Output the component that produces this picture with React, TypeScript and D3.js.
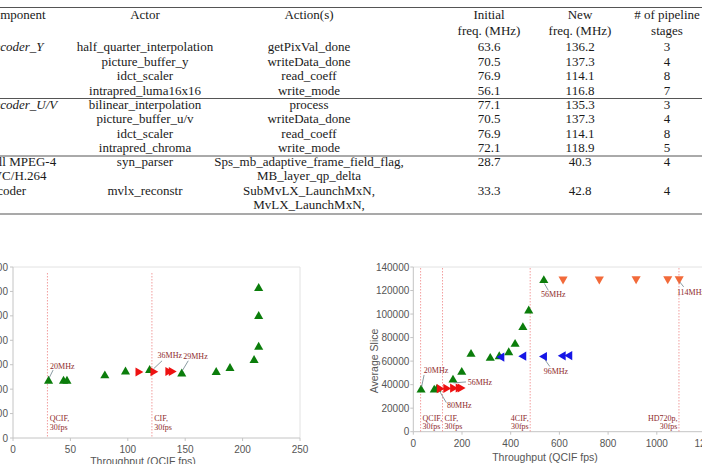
import React from "react";
import * as d3 from "d3";

// ---------- Table data ----------
const tableHeader1 = ["Component", "Actor", "Action(s)", "Initial", "New", "# of pipeline"];
const tableHeader2 = ["", "", "", "freq. (MHz)", "freq. (MHz)", "stages"];
const componentNames = [["Decoder_Y"], ["Decoder_U/V"], ["Full MPEG-4", "AVC/H.264", "decoder"]];
const componentItalic = [true, true, false];
const groupSizes = [4, 4, 2];
const actors = [
  "half_quarter_interpolation", "picture_buffer_y", "idct_scaler", "intrapred_luma16x16",
  "bilinear_interpolation", "picture_buffer_u/v", "idct_scaler", "intrapred_chroma",
  "syn_parser", "mvlx_reconstr",
];
const actions = [
  ["getPixVal_done"], ["writeData_done"], ["read_coeff"], ["write_mode"],
  ["process"], ["writeData_done"], ["read_coeff"], ["write_mode"],
  ["Sps_mb_adaptive_frame_field_flag,", "MB_layer_qp_delta"],
  ["SubMvLX_LaunchMxN,", "MvLX_LaunchMxN,"],
];
const initialFreq = [63.6, 70.5, 76.9, 56.1, 77.1, 70.5, 76.9, 72.1, 28.7, 33.3];
const newFreq = [136.2, 137.3, 114.1, 116.8, 135.3, 137.3, 114.1, 118.9, 40.3, 42.8];
const pipelineStages = [3, 4, 8, 7, 3, 4, 8, 5, 4, 4];

// ---------- Left chart data (Average Slice vs QCIF fps) ----------
const leftGreenX = [31, 44, 47, 80, 98, 119, 147, 177, 189, 210, 214, 214, 214];
const leftGreenY = [23300, 23300, 23300, 25500, 27100, 27700, 26300, 26900, 28500, 31800, 37200, 49800, 61300];
const leftRedX = [109, 122, 135, 138];
const leftRedY = [27000, 27100, 27200, 27200];
const leftYTicks = [0, 10000, 20000, 30000, 40000, 50000, 60000, 70000];
const leftXTicks = [0, 50, 100, 150, 200, 250];
const leftRefX = [30, 121];
const leftRefLabels = [["QCIF,", "30fps"], ["CIF,", "30fps"]];

// ---------- Right chart data ----------
const rightGreenX = [32, 86, 97, 163, 199, 237, 316, 353, 392, 418, 450, 474, 536];
const rightGreenY = [35500, 35500, 36100, 44000, 50600, 65900, 62500, 63900, 67300, 74400, 88600, 102800, 128600];
const rightBlueX = [363, 453, 538, 615, 642];
const rightBlueY = [63400, 64200, 63900, 64500, 64700];
const rightRedX = [107, 134, 162, 185, 193];
const rightRedY = [36600, 36800, 37000, 37200, 37200];
const rightOrangeX = [615, 764, 915, 1045, 1092];
const rightOrangeY = [129600, 129700, 129800, 129900, 129900];
const rightYTicks = [0, 20000, 40000, 60000, 80000, 100000, 120000, 140000];
const rightXTicks = [0, 200, 400, 600, 800, 1000, 1200];
const rightRefX = [30, 120, 480, 1091];
const rightRefLabels = [["QCIF,", "30fps"], ["CIF,", "30fps"], ["4CIF,", "30fps"], ["HD720p,", "30fps"]];

const GREEN = "#0b7d0b";
const RED = "#ee1111";
const BLUE = "#1616e6";
const ORANGE = "#f26a3a";
const NOTE = "#8e2a2a";
const REF = "#ef8585";
const LEADER = "#58707a";
const SERIF = "'Liberation Serif', 'Times New Roman', serif";
const SANS = "'Liberation Sans', Arial, sans-serif";

type Ann = { label: string; x: number; y: number; dx: number; dy: number; lx: number; ly: number };

const leftNotes: Ann[] = [
  { label: "20MHz", x: leftGreenX[0], y: leftGreenY[0], dx: 1.5, dy: -12, lx: 4.5, ly: -11 },
  { label: "36MHz", x: leftRedX[1], y: leftRedY[1], dx: 4.5, dy: -14, lx: 9, ly: -11 },
  { label: "29MHz", x: leftGreenX[6], y: leftGreenY[6], dx: 1.5, dy: -15, lx: 6.5, ly: -13 },
];
const rightNotes: Ann[] = [
  { label: "20MHz", x: rightGreenX[0], y: rightGreenY[0], dx: 2.7, dy: -17, lx: 3, ly: -15 },
  { label: "56MHz", x: rightGreenX[3], y: rightGreenY[3], dx: 14.7, dy: 5, lx: 13, ly: 2 },
  { label: "80MHz", x: rightRedX[0], y: rightRedY[0], dx: 7.7, dy: 19.7, lx: 7, ly: 14 },
  { label: "56MHz", x: rightGreenX[12], y: rightGreenY[12], dx: -2.7, dy: 17, lx: 4.5, ly: 10 },
  { label: "96MHz", x: rightBlueX[2], y: rightBlueY[2], dx: -0.6, dy: 17, lx: 5.5, ly: 10 },
  { label: "114MHz", x: rightOrangeX[4], y: rightOrangeY[4], dx: -2.3, dy: 16, lx: 4.5, ly: 8 },
];

const tri = d3.symbol().type(d3.symbolTriangle).size(36)() as string;

function Markers({ xs, ys, sx, sy, color, rot }: any) {
  return (
    <g>
      {xs.map((v: number, i: number) => (
        <path
          key={i}
          d={tri}
          fill={color}
          transform={`translate(${sx(v)},${sy(ys[i])}) rotate(${rot})`}
        />
      ))}
    </g>
  );
}

function Notes({ notes, sx, sy }: any) {
  return (
    <g>
      {notes.map((n: Ann, i: number) => {
        const px = sx(n.x);
        const py = sy(n.y);
        return (
          <g key={i}>
            <line x1={px + 0.5} y1={py + (n.ly < 0 ? -3 : 3)} x2={px + n.lx} y2={py + n.ly} stroke={LEADER} strokeWidth={0.7} />
            <text x={px + n.dx} y={py + n.dy} fontFamily={SERIF} fontSize={8} fill={NOTE}>{n.label}</text>
          </g>
        );
      })}
    </g>
  );
}

function Table() {
  const W = 702;
  const colActor = 145;
  const colAction = 309;
  const colInit = 489;
  const colNew = 580;
  const colStage = 667;
  const fs = 13;
  const groupStart = [51, 108.5, 165.5];
  const pitch = 14.5;
  const sepY = [7.5, 98.5, 156, 214];
  const rows: any[] = [];
  let r = 0;
  groupSizes.forEach((n, g) => {
    let line = 0;
    for (let k = 0; k < n; k++) {
      rows.push({ idx: r, y: groupStart[g] + line * pitch });
      line += actions[r].length;
      r++;
    }
  });
  return (
    <g fontFamily={SERIF} fontSize={fs} fill="#1a1a1a">
      {sepY.map((y, i) => (
        <line key={i} x1={0} x2={W} y1={y} y2={y} stroke="#555" strokeWidth={i === 0 || i === 3 ? 1.2 : 1} />
      ))}
      {tableHeader1.map((t, i) => {
        const x = [-15, colActor, colAction, colInit, colNew, colStage][i];
        return (
          <text key={i} x={x} y={19} textAnchor={i === 0 ? "start" : "middle"}>{t}</text>
        );
      })}
      {tableHeader2.map((t, i) => {
        const x = [-15, colActor, colAction, colInit, colNew, colStage][i];
        return t ? <text key={i} x={x} y={34.5} textAnchor="middle">{t}</text> : null;
      })}
      {componentNames.map((lines, g) =>
        lines.map((t, j) => (
          <text key={`${g}-${j}`} x={-15} y={groupStart[g] + j * pitch} fontStyle={componentItalic[g] ? "italic" : "normal"}>{t}</text>
        ))
      )}
      {rows.map(({ idx, y }) => (
        <g key={idx}>
          <text x={colActor} y={y} textAnchor="middle">{actors[idx]}</text>
          {actions[idx].map((a: string, j: number) => (
            <text key={j} x={colAction} y={y + j * pitch} textAnchor="middle">{a}</text>
          ))}
          <text x={colInit} y={y} textAnchor="middle">{initialFreq[idx].toFixed(1)}</text>
          <text x={colNew} y={y} textAnchor="middle">{newFreq[idx].toFixed(1)}</text>
          <text x={colStage} y={y} textAnchor="middle">{pipelineStages[idx]}</text>
        </g>
      ))}
    </g>
  );
}

function LeftChart() {
  const x0 = 13, x1 = 300, yTop = 267, yBot = 438;
  const sx = d3.scaleLinear().domain([0, 250]).range([x0, x1]);
  const sy = d3.scaleLinear().domain([0, 70000]).range([yBot, yTop]);
  return (
    <g>
      <line x1={x0} x2={x1} y1={yTop} y2={yTop} stroke="#e2e2e2" />
      <line x1={x1} x2={x1} y1={yTop} y2={yBot} stroke="#e2e2e2" />
      <line x1={x0} x2={x0} y1={yTop} y2={yBot} stroke="#c4c4c4" />
      <line x1={x0} x2={x1} y1={yBot} y2={yBot} stroke="#c4c4c4" />
      {leftYTicks.map((t) => (
        <g key={t}>
          <line x1={x0 - 3} x2={x0} y1={sy(t)} y2={sy(t)} stroke="#c4c4c4" />
          <text x={x0 - 5} y={sy(t) + 3.5} textAnchor="end" fontFamily={SANS} fontSize={10} fill="#555">{t}</text>
        </g>
      ))}
      {leftXTicks.map((t) => (
        <g key={t}>
          <line x1={sx(t)} x2={sx(t)} y1={yBot} y2={yBot + 3} stroke="#c4c4c4" />
          <text x={sx(t)} y={453} textAnchor="middle" fontFamily={SANS} fontSize={10} fill="#555">{t}</text>
        </g>
      ))}
      <text x={143} y={465} textAnchor="middle" fontFamily={SANS} fontSize={10.5} fill="#555">Throughput (QCIF fps)</text>
      {leftRefX.map((v, i) => (
        <g key={i}>
          <line x1={sx(v)} x2={sx(v)} y1={273} y2={yBot} stroke={REF} strokeWidth={0.8} strokeDasharray="1.5,1.5" />
          {leftRefLabels[i].map((s, j) => (
            <text key={j} x={sx(v) + 2.3} y={421 + j * 9} fontFamily={SERIF} fontSize={8} fill={NOTE}>{s}</text>
          ))}
        </g>
      ))}
      <Markers xs={leftGreenX} ys={leftGreenY} sx={sx} sy={sy} color={GREEN} rot={0} />
      <Markers xs={leftRedX} ys={leftRedY} sx={sx} sy={sy} color={RED} rot={90} />
      <Notes notes={leftNotes} sx={sx} sy={sy} />
    </g>
  );
}

function RightChart() {
  const x0 = 413.3, yTop = 267, yBot = 431.7;
  const sx = d3.scaleLinear().domain([0, 1200]).range([x0, x0 + 1200 * 0.2435]);
  const sy = d3.scaleLinear().domain([0, 140000]).range([yBot, yTop]);
  return (
    <g>
      <line x1={x0} x2={710} y1={yTop} y2={yTop} stroke="#e2e2e2" />
      <line x1={x0} x2={x0} y1={yTop} y2={yBot} stroke="#c4c4c4" />
      <line x1={x0} x2={710} y1={yBot} y2={yBot} stroke="#c4c4c4" />
      {rightYTicks.map((t) => (
        <g key={t}>
          <line x1={x0 - 3} x2={x0} y1={sy(t)} y2={sy(t)} stroke="#c4c4c4" />
          <text x={x0 - 4} y={sy(t) + 3.5} textAnchor="end" fontFamily={SANS} fontSize={10} fill="#555">{t}</text>
        </g>
      ))}
      {rightXTicks.map((t) => (
        <g key={t}>
          <line x1={sx(t)} x2={sx(t)} y1={yBot} y2={yBot + 3} stroke="#c4c4c4" />
          <text x={sx(t)} y={447} textAnchor="middle" fontFamily={SANS} fontSize={10} fill="#555">{t}</text>
        </g>
      ))}
      <text x={545} y={461} textAnchor="middle" fontFamily={SANS} fontSize={10.5} fill="#555">Throughput (QCIF fps)</text>
      <text transform="translate(378,361) rotate(-90)" textAnchor="middle" fontFamily={SANS} fontSize={10.5} fill="#555">Average Slice</text>
      {rightRefX.map((v, i) => {
        const endAnchor = i >= 2;
        return (
          <g key={i}>
            <line x1={sx(v)} x2={sx(v)} y1={268} y2={yBot} stroke={REF} strokeWidth={0.8} strokeDasharray="1.5,1.5" />
            {rightRefLabels[i].map((s, j) => (
              <text key={j} x={endAnchor ? sx(v) - 1.5 : sx(v) + 2} y={420.5 + j * 8.5} textAnchor={endAnchor ? "end" : "start"} fontFamily={SERIF} fontSize={8} fill={NOTE}>{s}</text>
            ))}
          </g>
        );
      })}
      <Markers xs={rightGreenX} ys={rightGreenY} sx={sx} sy={sy} color={GREEN} rot={0} />
      <Markers xs={rightRedX} ys={rightRedY} sx={sx} sy={sy} color={RED} rot={90} />
      <Markers xs={rightBlueX} ys={rightBlueY} sx={sx} sy={sy} color={BLUE} rot={-90} />
      <Markers xs={rightOrangeX} ys={rightOrangeY} sx={sx} sy={sy} color={ORANGE} rot={180} />
      <Notes notes={rightNotes} sx={sx} sy={sy} />
    </g>
  );
}

export default function App() {
  return (
    <svg
      width={702}
      height={464}
      viewBox="0 0 702 464"
      style={{ position: "absolute", left: 0, top: 0, background: "#fff" }}
    >
      <rect width={702} height={464} fill="#fff" />
      <Table />
      <LeftChart />
      <RightChart />
    </svg>
  );
}
